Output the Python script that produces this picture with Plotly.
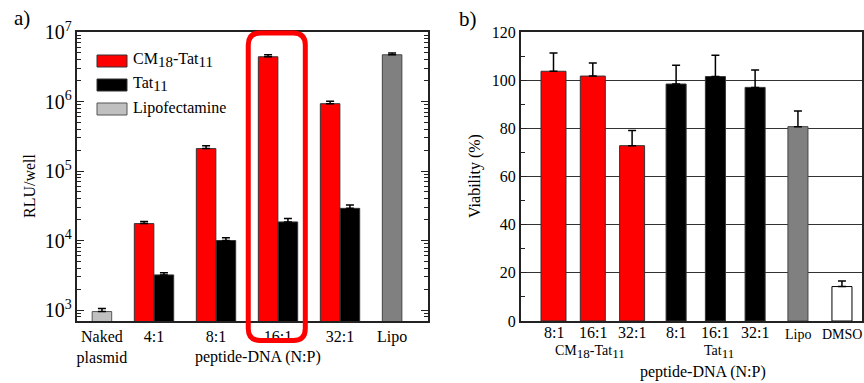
import plotly.graph_objects as go

# ---------------- Panel a) luciferase expression ----------------
a_tick_labels = ["Naked<br>plasmid", "4:1", "8:1", "16:1", "32:1", "Lipo"]
cm_rlu = [1.75e4, 2.1e5, 4.4e6, 9.3e5]
cm_rlu_err = [1.2e3, 2.0e4, 3.0e5, 8.0e4]
tat_rlu = [3.2e3, 1.0e4, 1.85e4, 2.9e4]
tat_rlu_err = [2.5e2, 1.0e3, 2.2e3, 3.5e3]
naked_rlu = [9.5e2]
naked_rlu_err = [1.0e2]
lipo_rlu = [4.7e6]
lipo_rlu_err = [3.0e5]

# ---------------- Panel b) viability ----------------
b_ratio_labels = ["8:1", "16:1", "32:1"]
cm_via = [103.7, 101.7, 72.8]
cm_via_err = [7.6, 5.4, 6.3]
tat_via = [98.4, 101.5, 97.0]
tat_via_err = [7.8, 8.8, 7.2]
lipo_via = [80.7]
lipo_via_err = [6.5]
dmso_via = [14.3]
dmso_via_err = [2.3]

FONT = "Liberation Serif, Times New Roman, serif"
W, H = 864, 383
MT, MB = 32, 62
PH = H - MT - MB


def py(ypx):
    return (H - MB - ypx) / PH


def px(xpx):
    return xpx / W


def up_err(vals):
    return dict(type="data", array=vals, arrayminus=[0] * len(vals), symmetric=False,
                color="black", thickness=1.5, width=4)


def sub(t, size):
    return f'<sub><span style="font-size:{size}px">{t}</span></sub>'


fig = go.Figure()

# ---- panel a bars ----
off = 0.16
wa = 0.315
grp = [1, 2, 3, 4]
fig.add_bar(x=[0 + off], y=naked_rlu, width=wa, marker=dict(color="#c0c0c0", line=dict(color="#555", width=1)),
            error_y=up_err(naked_rlu_err), xaxis="x", yaxis="y")
fig.add_bar(x=[g - off for g in grp], y=cm_rlu, width=wa, marker=dict(color="#ff0000", line=dict(color="#333", width=1)),
            error_y=up_err(cm_rlu_err), xaxis="x", yaxis="y")
fig.add_bar(x=[g + off for g in grp], y=tat_rlu, width=wa, marker=dict(color="#000000", line=dict(color="#333", width=1)),
            error_y=up_err(tat_rlu_err), xaxis="x", yaxis="y")
fig.add_bar(x=[5 - off], y=lipo_rlu, width=wa, marker=dict(color="#808080", line=dict(color="#444", width=1)),
            error_y=up_err(lipo_rlu_err), xaxis="x", yaxis="y")

# ---- panel b bars ----
cm_pos = [0, 1, 2]
tat_pos = [3.12, 4.12, 5.13]
lipo_pos = [6.22]
dmso_pos = [7.34]
fig.add_bar(x=cm_pos, y=cm_via, width=0.636, marker=dict(color="#ff0000", line=dict(color="#333", width=1)),
            error_y=up_err(cm_via_err), xaxis="x2", yaxis="y2")
fig.add_bar(x=tat_pos, y=tat_via, width=0.51, marker=dict(color="#000000", line=dict(color="#333", width=1)),
            error_y=up_err(tat_via_err), xaxis="x2", yaxis="y2")
fig.add_bar(x=lipo_pos, y=lipo_via, width=0.51, marker=dict(color="#808080", line=dict(color="#444", width=1)),
            error_y=up_err(lipo_via_err), xaxis="x2", yaxis="y2")
fig.add_bar(x=dmso_pos, y=dmso_via, width=0.51, marker=dict(color="#ffffff", line=dict(color="#000", width=1)),
            error_y=up_err(dmso_via_err), xaxis="x2", yaxis="y2")

axline = dict(showline=True, linecolor="#222", linewidth=2, zeroline=False)
tickfont = dict(family=FONT, size=16, color="black")

fig.update_layout(
    width=W, height=H,
    margin=dict(l=0, r=0, t=MT, b=MB),
    paper_bgcolor="white", plot_bgcolor="white",
    showlegend=False, barmode="overlay",
    font=dict(family=FONT, size=16, color="black"),
    xaxis=dict(domain=[px(77), px(428)], range=[-0.242, 5.419], anchor="y",
               tickmode="array", tickvals=[0 + off, 1, 2, 3, 4, 5 - off], ticktext=a_tick_labels,
               ticks="", showgrid=False, mirror=True, tickfont=tickfont, **axline),
    yaxis=dict(domain=[0, 1], type="log", range=[2.842, 7.0], anchor="x",
               dtick=1, exponentformat="power", ticks="inside", ticklen=7, tickwidth=1, tickcolor="#222",
               minor=dict(ticks="inside", ticklen=4, dtick="D1", tickcolor="#222", showgrid=False),
               showgrid=False, mirror="ticks", tickfont=tickfont, **axline),
    xaxis2=dict(domain=[px(521), px(862)], range=[-0.827, 7.85], anchor="y2",
                showticklabels=False, ticks="", showgrid=False, mirror=True, **axline),
    yaxis2=dict(domain=[0, 1], range=[0, 120], anchor="x2", dtick=20,
                ticks="inside", ticklen=6, tickcolor="#222",
                minor=dict(ticks="inside", ticklen=4, dtick=10, tickcolor="#222", showgrid=False),
                showgrid=True, gridcolor="#333", gridwidth=1, mirror=True, tickfont=tickfont, **axline),
)

ann = []


def add_text(text, x, y, size=16, xref="paper", xanchor="center", angle=0):
    ann.append(dict(text=text, x=x, y=y, xref=xref, yref="paper", showarrow=False,
                    xanchor=xanchor, yanchor="middle", textangle=angle,
                    font=dict(family=FONT, size=size, color="black")))


# panel letters
add_text("a)", px(22), py(18), size=21)
add_text("b)", px(468), py(19), size=21)
# axis titles
add_text("RLU/well", px(30), py(186), angle=-90)
add_text("Viability (%)", px(475), py(176), angle=-90)
add_text("peptide-DNA (N:P)", px(258), py(357), size=16)
add_text("peptide-DNA (N:P)", px(703), py(372), size=16)

# panel b category labels
for xs, lab in zip(cm_pos + tat_pos, b_ratio_labels + b_ratio_labels):
    add_text(lab, xs, py(332), xref="x2")
add_text("Lipo", lipo_pos[0], py(334), size=14, xref="x2")
add_text("DMSO", dmso_pos[0], py(334), size=14, xref="x2")
add_text("CM" + sub("18", 13) + "-Tat" + sub("11", 13), 0.93, py(352), size=14, xref="x2")
add_text("Tat" + sub("11", 13), 4.22, py(352), size=14, xref="x2")

# custom legend for panel a
legend_items = [("CM" + sub("18", 15) + "-Tat" + sub("11", 15), "#ff0000", "#333", 61),
                ("Tat" + sub("11", 15), "#000000", "#333", 85),
                ("Lipofectamine", "#c0c0c0", "#555", 109)]
shapes = []
for label, col, lcol, yc in legend_items:
    shapes.append(dict(type="rect", xref="paper", yref="paper", x0=px(97), x1=px(127),
                       y0=py(yc + 6), y1=py(yc - 6), fillcolor=col, line=dict(color=lcol, width=1)))
    add_text(label, px(131), py(yc - 1), xanchor="left")

# rounded highlight around the 16:1 group
cx, hw = 2.98, 0.46
ytop, ybot = py(33), py(340.5)
rx, ry = 12 / 62, 12 / PH
path = (f"M {cx-hw+rx},{ytop} L {cx+hw-rx},{ytop} Q {cx+hw},{ytop} {cx+hw},{ytop-ry} "
        f"L {cx+hw},{ybot+ry} Q {cx+hw},{ybot} {cx+hw-rx},{ybot} L {cx-hw+rx},{ybot} "
        f"Q {cx-hw},{ybot} {cx-hw},{ybot+ry} L {cx-hw},{ytop-ry} Q {cx-hw},{ytop} {cx-hw+rx},{ytop} Z")
shapes.append(dict(type="path", xref="x", yref="paper", path=path, line=dict(color="#ff0000", width=5),
                   layer="above"))

fig.update_layout(annotations=ann, shapes=shapes)
fig.write_html("out.html")
